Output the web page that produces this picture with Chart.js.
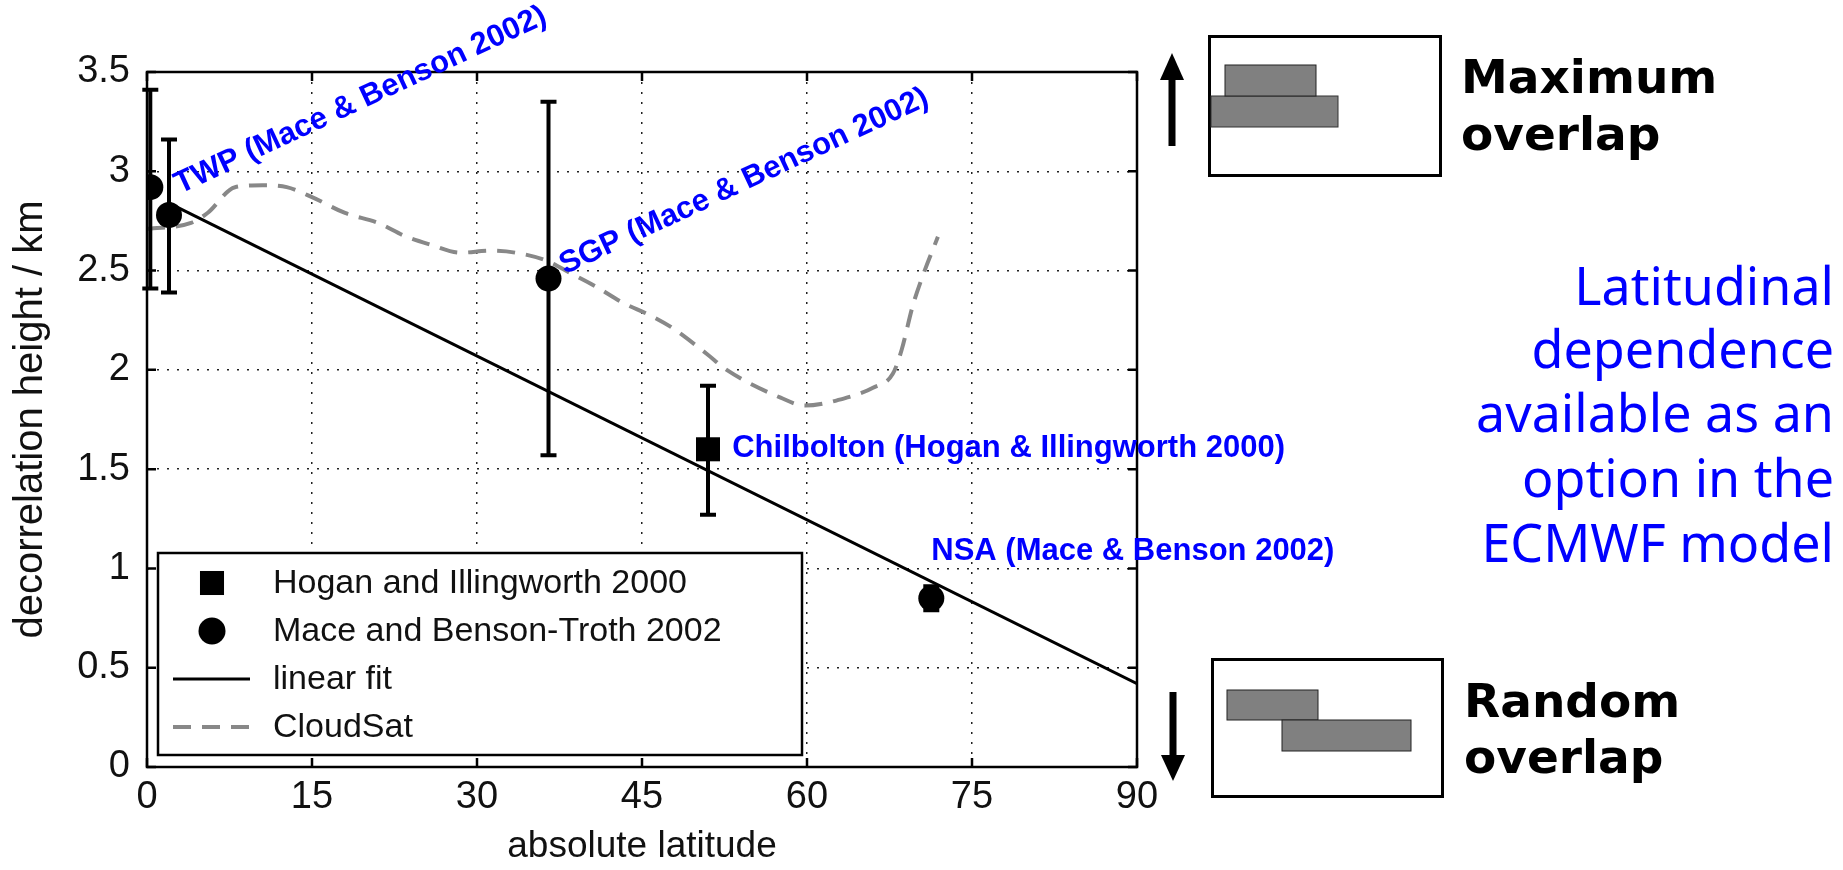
<!DOCTYPE html>
<html>
<head>
<meta charset="utf-8">
<title>Decorrelation height vs latitude</title>
<script src="https://cdn.jsdelivr.net/npm/chart.js@4.4.1/dist/chart.umd.min.js"></script>
<style>
  body { margin: 0; background: #fff; overflow: hidden; }
  #wrap { position: absolute; left: 0; top: 0; width: 1843px; height: 870px; }
  #side { position: absolute; left: 0; top: 0; pointer-events: none; }
  .ov { font-family: 'DejaVu Sans', sans-serif; font-weight: bold; font-size: 47px; fill: #000; }
  .note { font-family: 'Comic Sans MS', 'Noto Sans', sans-serif; font-size: 52px; fill: #0000ff; }
</style>
</head>
<body>
<div id="wrap"><canvas id="decorr"></canvas></div>

<svg id="side" width="1843" height="870" xmlns="http://www.w3.org/2000/svg">
  <!-- maximum overlap -->
  <rect x="1209.5" y="36.5" width="231" height="139" fill="#fff" stroke="#000" stroke-width="3"/>
  <rect x="1211" y="96" width="127" height="31" fill="#808080" stroke="#333" stroke-width="1"/>
  <rect x="1225" y="65" width="91" height="31" fill="#808080" stroke="#222" stroke-width="1"/>
  <rect x="1168.5" y="74" width="7" height="72" fill="#000"/>
  <polygon points="1172,53 1160,80 1184,80" fill="#000"/>
  <text x="1461" y="93" class="ov">Maximum</text>
  <text x="1461" y="150" class="ov">overlap</text>

  <!-- random overlap -->
  <rect x="1212.5" y="659.5" width="230" height="137" fill="#fff" stroke="#000" stroke-width="3"/>
  <rect x="1227" y="690" width="91" height="30" fill="#808080" stroke="#222" stroke-width="1"/>
  <rect x="1282" y="720" width="129" height="31" fill="#808080" stroke="#222" stroke-width="1"/>
  <rect x="1169.5" y="692" width="7" height="65" fill="#000"/>
  <polygon points="1173,781 1161,755 1185,755" fill="#000"/>
  <text x="1464" y="717" class="ov">Random</text>
  <text x="1464" y="773" class="ov">overlap</text>

  <text x="1834" y="305" text-anchor="end" class="note">Latitudinal</text>
  <text x="1834" y="368" text-anchor="end" class="note">dependence</text>
  <text x="1834" y="432" text-anchor="end" class="note">available as an</text>
  <text x="1834" y="497" text-anchor="end" class="note">option in the</text>
  <text x="1834" y="562" text-anchor="end" class="note">ECMWF model</text>
</svg>

<script>
// values
const xTicks = [0, 15, 30, 45, 60, 75, 90];
const yTicks = [0, 0.5, 1, 1.5, 2, 2.5, 3, 3.5];

// Hogan & Illingworth 2000 (Chilbolton)
const hoganLat = [51.0];
const hoganHeight = [1.60];
const hoganLow = [1.27];
const hoganHigh = [1.92];

// Mace & Benson-Troth 2002 (TWP x2, SGP, NSA)
const maceLat = [0.3, 2.0, 36.5, 71.3];
const maceHeight = [2.92, 2.78, 2.46, 0.85];
const maceLow = [2.41, 2.39, 1.57, 0.79];
const maceHigh = [3.41, 3.16, 3.35, 0.91];

const fitLat = [2, 90];
const fitHeight = [2.84, 0.42];

const cloudsatLat = [0, 4, 5.5, 8, 10.5, 12.7, 15, 18, 21, 23.6, 25.8, 28.5, 31.2, 33.5, 36.3,
  38.4, 40.8, 43.2, 45.9, 47.8, 50.9, 52.7, 57.6, 59.8, 63.6, 66, 67.8, 68.6, 69.6, 70.5, 71.9];
const cloudsatHeight = [2.71, 2.74, 2.79, 2.92, 2.93, 2.92, 2.87, 2.79, 2.74, 2.67, 2.63, 2.59, 2.60, 2.59, 2.55,
  2.49, 2.42, 2.34, 2.27, 2.21, 2.08, 2.00, 1.86, 1.82, 1.86, 1.91, 1.98, 2.10, 2.32, 2.47, 2.67];

// site labels, placed in data units (start of the text baseline)
const notes = [
  { text: 'TWP (Mace & Benson 2002)', lat: 3.0, km: 2.885, angle: -25 },
  { text: 'SGP (Mace & Benson 2002)', lat: 38.0, km: 2.48, angle: -25 },
  { text: 'Chilbolton (Hogan & Illingworth 2000)', lat: 53.2, km: 1.56, angle: 0 },
  { text: 'NSA (Mace & Benson 2002)', lat: 71.3, km: 1.04, angle: 0 }
];

const toPoints = (xs, ys) => xs.map((x, i) => ({ x: x, y: ys[i] }));

Chart.defaults.font.family = "'Liberation Sans', Arial, sans-serif";
Chart.defaults.color = '#111';

// error bars, legend box, frame with inward ticks, blue site labels
const extras = {
    id: 'extras',
    afterDatasetsDraw(chart) {
        const { ctx, chartArea: area } = chart;
        const xs = chart.scales.x;
        const ys = chart.scales.y;

        // error bars
        ctx.save();
        ctx.strokeStyle = '#000';
        ctx.lineWidth = 4;
        chart.data.datasets.forEach(ds => {
            if (!ds.errLow) return;
            ds.data.forEach((p, i) => {
                const px = xs.getPixelForValue(p.x);
                const lo = ys.getPixelForValue(ds.errLow[i]);
                const hi = ys.getPixelForValue(ds.errHigh[i]);
                ctx.beginPath();
                ctx.moveTo(px, lo); ctx.lineTo(px, hi);
                ctx.moveTo(px - 8, lo); ctx.lineTo(px + 8, lo);
                ctx.moveTo(px - 8, hi); ctx.lineTo(px + 8, hi);
                ctx.stroke();
            });
        });
        ctx.restore();

        // legend
        const lx = area.left + 11, lb = area.bottom - 12;
        const lw = 644, lh = 202, ly = lb - lh;
        ctx.save();
        ctx.fillStyle = '#fff';
        ctx.fillRect(lx, ly, lw, lh);
        ctx.lineWidth = 2.5;
        ctx.strokeStyle = '#000';
        ctx.strokeRect(lx, ly, lw, lh);
        ctx.font = "34px 'Liberation Sans', Arial, sans-serif";
        ctx.textBaseline = 'middle';
        chart.data.datasets.forEach((ds, i) => {
            const cy = ly + 30 + i * 48;
            const cx = lx + 54;
            ctx.fillStyle = '#000';
            if (ds.showLine) {
                ctx.strokeStyle = ds.borderColor;
                ctx.lineWidth = ds.borderWidth;
                ctx.setLineDash(ds.borderDash || []);
                ctx.beginPath();
                ctx.moveTo(lx + 15, cy); ctx.lineTo(lx + 92, cy);
                ctx.stroke();
                ctx.setLineDash([]);
            } else if (ds.pointStyle === 'rect') {
                const h = ds.pointRadius * Math.SQRT1_2;
                ctx.fillRect(cx - h, cy - h, 2 * h, 2 * h);
            } else {
                ctx.beginPath();
                ctx.arc(cx, cy, ds.pointRadius + 0.5, 0, Math.PI * 2);
                ctx.fill();
            }
            ctx.fillStyle = '#111';
            ctx.fillText(ds.label, lx + 115, cy + 1);
        });
        ctx.restore();

        // frame and inward ticks on all four sides
        ctx.save();
        ctx.strokeStyle = '#000';
        ctx.lineWidth = 2.5;
        ctx.strokeRect(area.left, area.top, area.right - area.left, area.bottom - area.top);
        ctx.beginPath();
        xTicks.forEach(v => {
            const px = xs.getPixelForValue(v);
            ctx.moveTo(px, area.bottom); ctx.lineTo(px, area.bottom - 9);
            ctx.moveTo(px, area.top); ctx.lineTo(px, area.top + 9);
        });
        yTicks.forEach(v => {
            const py = ys.getPixelForValue(v);
            ctx.moveTo(area.left, py); ctx.lineTo(area.left + 9, py);
            ctx.moveTo(area.right, py); ctx.lineTo(area.right - 9, py);
        });
        ctx.stroke();
        ctx.restore();

        // blue site labels
        ctx.save();
        ctx.fillStyle = '#0000ff';
        ctx.font = "bold 31px 'Liberation Sans', Arial, sans-serif";
        ctx.textBaseline = 'alphabetic';
        notes.forEach(n => {
            ctx.save();
            ctx.translate(xs.getPixelForValue(n.lat), ys.getPixelForValue(n.km));
            ctx.rotate(n.angle * Math.PI / 180);
            ctx.fillText(n.text, 0, 0);
            ctx.restore();
        });
        ctx.restore();
    }
};

const decorrChart = new Chart(document.getElementById('decorr'), {
    type: 'scatter',
    data: {
        datasets: [
            {
                label: 'Hogan and Illingworth 2000',
                data: toPoints(hoganLat, hoganHeight),
                errLow: hoganLow,
                errHigh: hoganHigh,
                pointStyle: 'rect',
                pointRadius: 17,
                backgroundColor: '#000',
                borderColor: '#000',
                borderWidth: 0,
                order: 0
            },
            {
                label: 'Mace and Benson-Troth 2002',
                data: toPoints(maceLat, maceHeight),
                errLow: maceLow,
                errHigh: maceHigh,
                pointStyle: 'circle',
                pointRadius: 13,
                backgroundColor: '#000',
                borderColor: '#000',
                borderWidth: 0,
                order: 0
            },
            {
                label: 'linear fit',
                data: toPoints(fitLat, fitHeight),
                showLine: true,
                borderColor: '#000',
                borderWidth: 3,
                pointRadius: 0,
                order: 1
            },
            {
                label: 'CloudSat',
                data: toPoints(cloudsatLat, cloudsatHeight),
                showLine: true,
                borderColor: '#888888',
                borderWidth: 4,
                borderDash: [18, 11],
                cubicInterpolationMode: 'monotone',
                pointRadius: 0,
                order: 2
            }
        ]
    },
    options: {
        responsive: true,
        maintainAspectRatio: false,
        animation: false,
        events: [],
        layout: { padding: { left: 0, top: 72, right: 706, bottom: 0 } },
        plugins: {
            legend: { display: false },
            tooltip: { enabled: false }
        },
        scales: {
            x: {
                type: 'linear',
                min: 0,
                max: 90,
                afterBuildTicks: s => { s.ticks = xTicks.map(v => ({ value: v })); },
                afterFit: s => { s.height = 103; },
                ticks: { font: { size: 38 }, padding: 8, callback: v => String(v) },
                grid: { color: '#222', lineWidth: 1.5, drawTicks: false },
                border: { display: false, dash: [2, 8] },
                title: {
                    display: true,
                    text: 'absolute latitude',
                    font: { size: 37, lineHeight: 1.25 },
                    padding: 0
                }
            },
            y: {
                type: 'linear',
                min: 0,
                max: 3.5,
                afterBuildTicks: s => { s.ticks = yTicks.map(v => ({ value: v })); },
                afterFit: s => { s.width = 147; },
                ticks: { font: { size: 38 }, padding: 17, callback: v => String(v) },
                grid: { color: '#222', lineWidth: 1.5, drawTicks: false },
                border: { display: false, dash: [2, 8] },
                title: {
                    display: true,
                    text: 'decorrelation height / km',
                    font: { size: 40 },
                    padding: { top: 7, bottom: 0 }
                }
            }
        }
    },
    plugins: [extras]
});
</script>
</body>
</html>
